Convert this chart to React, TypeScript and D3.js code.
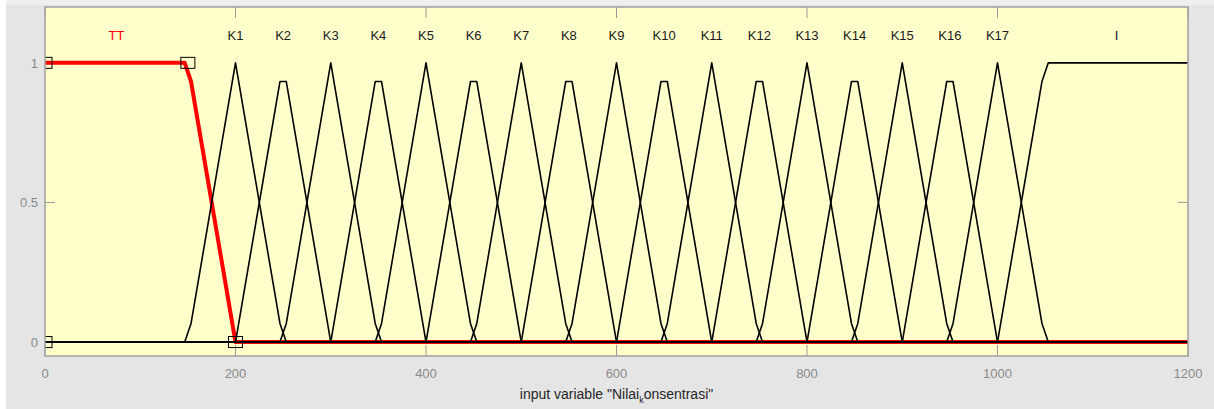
import React from "react";
import * as d3 from "d3";

// ---- data ----
const xTicks = [0, 200, 400, 600, 800, 1000, 1200];
const yTicks = [0, 0.5, 1];
const yTickLabels = ["0", "0.5", "1"];

// TT: trapezoid (selected, red)
const ttX = [0, 146.67, 153.33, 200, 1200];
const ttY = [1, 1, 0.933, 0, 0];
const ttLabelX = 75;
// squares on the selected MF's parameters
const ttParamX = [0, 0, 150, 200];
const ttParamY = [0, 1, 1, 0];

// K1..K17 triangles
const kNames = ["K1", "K2", "K3", "K4", "K5", "K6", "K7", "K8", "K9", "K10", "K11", "K12", "K13", "K14", "K15", "K16", "K17"];
const kCenters = [200, 250, 300, 350, 400, 450, 500, 550, 600, 650, 700, 750, 800, 850, 900, 950, 1000];
const kPeaks = [1, 0.933, 1, 0.933, 1, 0.933, 1, 0.933, 1, 0.933, 1, 0.933, 1, 0.933, 1, 0.933, 1];
const kHalfWidth = 50;

// I: trapezoid at the right
const iX = [0, 1000, 1046.67, 1053.33, 1200];
const iY = [0, 0, 0.933, 1, 1];
const iLabelX = 1125;

const labelLevel = 1.1;

const W = 1214;
const H = 409;
const left = 45, right = 1188, top = 7, bottom = 356;

export default function App() {
  const x = d3.scaleLinear().domain([0, 1200]).range([left, right]);
  const y = d3.scaleLinear().domain([-0.05, 1.2]).range([bottom, top]);
  const line = d3
    .line<[number, number]>()
    .x((d) => x(d[0]))
    .y((d) => y(d[1]));

  const step = 1200 / 180;
  const kShapes = kCenters.map((c, i) => {
    const p = kPeaks[i];
    let pts: [number, number][];
    if (p >= 1) {
      const foot = step / 2 / kHalfWidth;
      pts = [
        [0, 0],
        [c - kHalfWidth - step / 2, 0],
        [c - kHalfWidth + step / 2, foot],
        [c, 1],
        [c + kHalfWidth - step / 2, foot],
        [c + kHalfWidth + step / 2, 0],
        [1200, 0],
      ];
    } else {
      pts = [
        [0, 0],
        [c - kHalfWidth, 0],
        [c - step / 2, p],
        [c + step / 2, p],
        [c + kHalfWidth, 0],
        [1200, 0],
      ];
    }
    return pts;
  });

  const ttPts = ttX.map((v, i) => [v, ttY[i]] as [number, number]);
  const iPts = iX.map((v, i) => [v, iY[i]] as [number, number]);

  const font = "'Liberation Sans', Arial, Helvetica, sans-serif";
  const sqW = 14, sqH = 11;

  return (
    <svg
      width={W}
      height={H}
      style={{ position: "absolute", left: 0, top: 0, display: "block" }}
      fontFamily={font}
    >
      <rect x={0} y={0} width={W} height={H} fill="#ffffff" />
      <rect x={6} y={0} width={W - 6} height={H} fill="#e5e5e5" />
      <rect x={6} y={0} width={W - 6} height={5} fill="#efefef" />
      <defs>
        <clipPath id="plotclip">
          <rect x={left} y={top} width={right - left} height={bottom - top} />
        </clipPath>
      </defs>
      <rect x={left} y={top} width={right - left} height={bottom - top} fill="#ffffcc" />

      {/* ticks */}
      {xTicks.map((t) => (
        <g key={"xt" + t}>
          <line x1={x(t)} x2={x(t)} y1={bottom} y2={bottom - 11} stroke="#9a9a9a" strokeWidth={1} />
          <line x1={x(t)} x2={x(t)} y1={top} y2={top + 11} stroke="#9a9a9a" strokeWidth={1} />
          <text x={x(t)} y={378} textAnchor="middle" fontSize={13} fill="#8a8a8a">
            {t}
          </text>
        </g>
      ))}
      {yTicks.map((t, i) => (
        <g key={"yt" + t}>
          <line x1={left} x2={left + 10} y1={y(t)} y2={y(t)} stroke="#9a9a9a" strokeWidth={1} />
          <line x1={right} x2={right - 10} y1={y(t)} y2={y(t)} stroke="#9a9a9a" strokeWidth={1} />
          <text x={38} y={y(t) + 5} textAnchor="end" fontSize={13} fill="#8a8a8a">
            {yTickLabels[i]}
          </text>
        </g>
      ))}

      <g clipPath="url(#plotclip)">
        {/* selected MF in red, below */}
        <path d={line(ttPts) || ""} fill="none" stroke="#ff0000" strokeWidth={4} strokeLinejoin="round" />
        {kShapes.map((pts, i) => (
          <path key={kNames[i]} d={line(pts) || ""} fill="none" stroke="#000" strokeWidth={1.6} strokeLinejoin="round" />
        ))}
        <path d={line(iPts) || ""} fill="none" stroke="#000" strokeWidth={1.6} strokeLinejoin="round" />
        {ttParamX.map((px, i) => (
          <rect
            key={"sq" + i}
            x={x(px) - sqW / 2}
            y={y(ttParamY[i]) - sqH / 2}
            width={sqW}
            height={sqH}
            fill="none"
            stroke="#000"
            strokeWidth={1}
          />
        ))}
      </g>

      <rect x={left} y={top} width={right - left} height={bottom - top} fill="none" stroke="#a0a0a0" strokeWidth={1.5} />

      {/* labels */}
      <text x={x(ttLabelX)} y={y(labelLevel) + 5} textAnchor="middle" fontSize={13} fill="#ff0000">
        TT
      </text>
      {kNames.map((n, i) => (
        <text key={"lab" + n} x={x(kCenters[i])} y={y(labelLevel) + 5} textAnchor="middle" fontSize={13} fill="#1a1a1a">
          {n}
        </text>
      ))}
      <text x={x(iLabelX)} y={y(labelLevel) + 5} textAnchor="middle" fontSize={13} fill="#1a1a1a">
        I
      </text>

      <text x={(left + right) / 2} y={399} textAnchor="middle" fontSize={14} fill="#262626">
        input variable "Nilai
        <tspan fontSize={9} dy={4}>k</tspan>
        <tspan dy={-4}>onsentrasi"</tspan>
      </text>
    </svg>
  );
}
